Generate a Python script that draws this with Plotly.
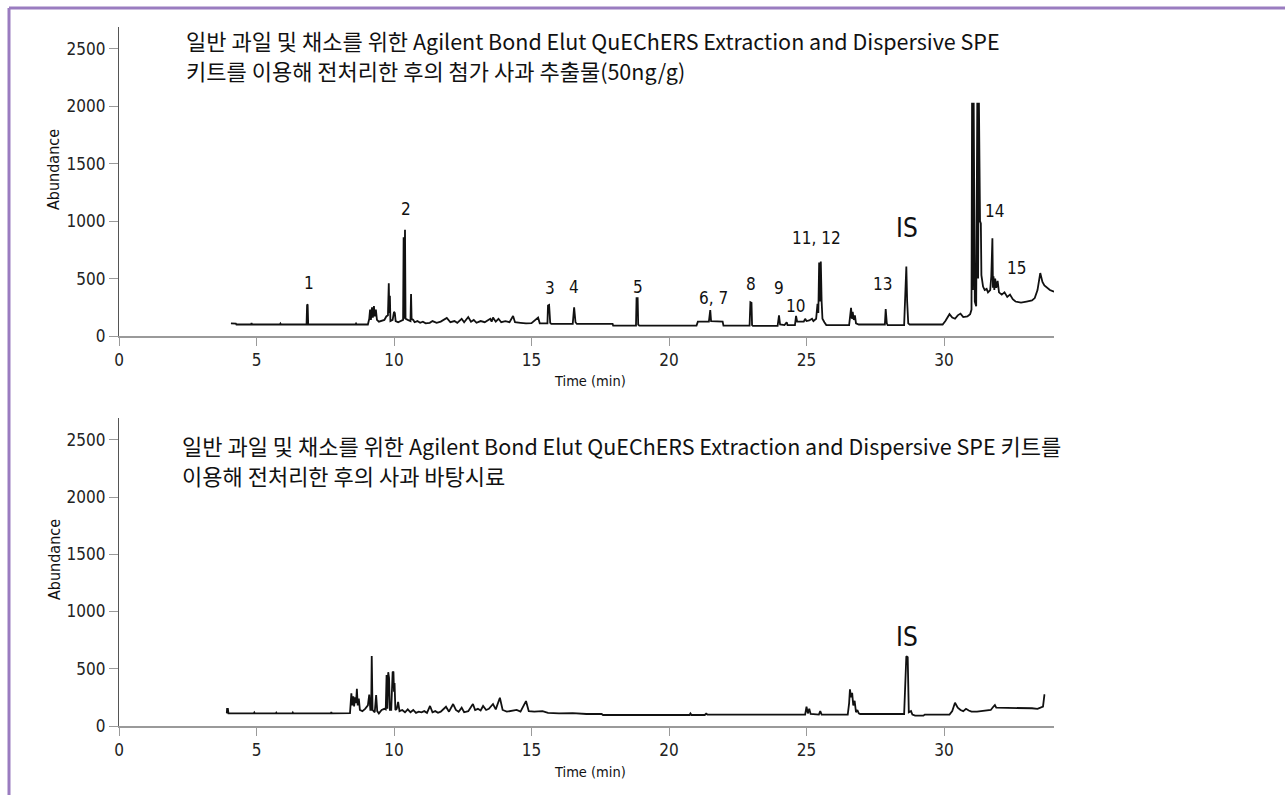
import plotly.graph_objects as go

# Spiked apple extract (50 ng/g): (retention time in min, abundance)
spiked_points = [
    (4.07, 110), (4.25, 108), (4.27, 100), (4.80, 100), (4.82, 112), (4.84, 100),
    (5.85, 100), (5.87, 108), (5.89, 100), (6.82, 100), (6.84, 275), (6.86, 270),
    (6.88, 100), (8.60, 100), (8.62, 108), (8.64, 100), (9.05, 100), (9.10, 150),
    (9.13, 230), (9.16, 140), (9.20, 250), (9.23, 160), (9.27, 260), (9.30, 170),
    (9.34, 230), (9.38, 140), (9.45, 125), (9.55, 135), (9.65, 140), (9.72, 170),
    (9.78, 180), (9.81, 460), (9.83, 200), (9.85, 350), (9.87, 130), (9.95, 140),
    (10.00, 210), (10.03, 200), (10.06, 130), (10.15, 120), (10.25, 130),
    (10.33, 140), (10.35, 860), (10.37, 150), (10.40, 925), (10.42, 150),
    (10.50, 140), (10.60, 130), (10.62, 365), (10.64, 150), (10.70, 140),
    (10.75, 120), (10.85, 130), (10.95, 115), (11.05, 125), (11.15, 110),
    (11.30, 115), (11.40, 130), (11.55, 115), (11.70, 125), (11.92, 157),
    (12.05, 120), (12.20, 130), (12.30, 115), (12.46, 150), (12.55, 120),
    (12.70, 165), (12.80, 125), (12.90, 140), (13.00, 115), (13.15, 130),
    (13.30, 120), (13.50, 150), (13.55, 125), (13.60, 160), (13.70, 125),
    (13.80, 150), (13.90, 120), (14.05, 130), (14.20, 120), (14.33, 174),
    (14.40, 120), (14.60, 115), (14.80, 110), (15.00, 112), (15.24, 160),
    (15.30, 110), (15.58, 110), (15.60, 265), (15.64, 270), (15.68, 115),
    (15.72, 105), (16.50, 105), (16.55, 250), (16.60, 120), (16.65, 105),
    (17.95, 105), (17.97, 90), (18.80, 90), (18.82, 330), (18.86, 330),
    (18.88, 100), (18.92, 90), (21.00, 90), (21.05, 125), (21.45, 125),
    (21.50, 225), (21.53, 130), (21.95, 125), (21.98, 90), (22.93, 90),
    (22.96, 295), (23.00, 290), (23.02, 95), (23.05, 88), (23.95, 88),
    (24.00, 180), (24.04, 100), (24.20, 95), (24.28, 120), (24.31, 95),
    (24.58, 95), (24.62, 175), (24.66, 125), (24.90, 125), (24.95, 150),
    (25.00, 130), (25.10, 135), (25.20, 150), (25.25, 130), (25.35, 150),
    (25.40, 280), (25.43, 200), (25.46, 640), (25.49, 300), (25.52, 648),
    (25.55, 300), (25.58, 150), (25.65, 120), (25.72, 95), (26.55, 95),
    (26.60, 200), (26.62, 245), (26.65, 150), (26.68, 210), (26.72, 140),
    (26.76, 180), (26.80, 110), (26.90, 100), (27.85, 100), (27.88, 235),
    (27.92, 110), (27.95, 95), (28.55, 95), (28.60, 365), (28.63, 604),
    (28.66, 300), (28.70, 110), (28.75, 100), (29.95, 100), (30.05, 130),
    (30.20, 190), (30.30, 160), (30.40, 150), (30.50, 180), (30.60, 195),
    (30.70, 165), (30.85, 170), (30.95, 190), (31.00, 230), (31.02, 2030),
    (31.05, 400), (31.08, 2030), (31.12, 300), (31.17, 260), (31.21, 2030),
    (31.24, 500), (31.27, 2030), (31.31, 1000), (31.34, 980), (31.36, 530),
    (31.42, 430), (31.48, 400), (31.55, 410), (31.60, 380), (31.68, 400),
    (31.72, 520), (31.76, 850), (31.78, 420), (31.80, 520), (31.83, 400),
    (31.86, 500), (31.90, 420), (31.95, 480), (32.00, 380), (32.10, 360),
    (32.20, 380), (32.30, 340), (32.40, 360), (32.50, 320), (32.60, 300),
    (32.80, 290), (33.00, 300), (33.20, 310), (33.30, 330), (33.40, 400),
    (33.50, 548), (33.58, 470), (33.65, 440), (33.75, 420), (33.85, 400),
    (33.95, 390), (34.05, 385),
]

# Apple blank: (retention time in min, abundance)
blank_points = [
    (3.92, 110), (3.93, 150), (3.96, 150), (3.98, 110), (4.90, 110), (4.92, 118),
    (4.94, 110), (5.70, 110), (5.72, 117), (5.74, 110), (6.30, 110), (6.32, 118),
    (6.34, 110), (6.60, 110), (6.62, 116), (6.64, 110), (7.70, 110), (7.72, 120),
    (7.74, 110), (8.40, 112), (8.42, 160), (8.45, 285), (8.48, 180), (8.52, 260),
    (8.55, 170), (8.58, 250), (8.62, 200), (8.65, 325), (8.68, 180), (8.72, 240),
    (8.76, 140), (8.85, 130), (8.95, 150), (9.05, 180), (9.10, 275), (9.14, 140),
    (9.17, 140), (9.19, 612), (9.22, 140), (9.30, 120), (9.35, 270), (9.39, 130),
    (9.45, 110), (9.55, 140), (9.65, 150), (9.70, 145), (9.73, 445), (9.76, 150),
    (9.79, 470), (9.82, 420), (9.85, 140), (9.90, 140), (9.95, 470), (9.98, 475),
    (10.00, 300), (10.02, 375), (10.05, 140), (10.10, 150), (10.15, 210),
    (10.20, 130), (10.30, 140), (10.40, 120), (10.50, 145), (10.60, 120),
    (10.70, 140), (10.80, 115), (10.90, 125), (11.00, 120), (11.10, 130),
    (11.20, 115), (11.31, 175), (11.40, 120), (11.50, 130), (11.60, 115),
    (11.70, 125), (11.89, 168), (12.00, 125), (12.15, 192), (12.25, 140),
    (12.35, 125), (12.46, 160), (12.55, 120), (12.70, 130), (12.87, 192),
    (12.95, 140), (13.05, 150), (13.15, 135), (13.24, 175), (13.35, 140),
    (13.45, 150), (13.60, 192), (13.70, 145), (13.85, 247), (13.95, 140),
    (14.10, 125), (14.30, 130), (14.46, 140), (14.60, 125), (14.80, 218),
    (14.90, 130), (15.10, 125), (15.40, 130), (15.60, 115), (16.00, 110),
    (16.50, 112), (17.00, 105), (17.55, 105), (17.60, 96), (20.75, 96),
    (20.78, 110), (20.82, 96), (21.30, 96), (21.35, 108), (21.40, 100),
    (24.95, 100), (25.00, 168), (25.05, 110), (25.10, 150), (25.15, 105),
    (25.45, 100), (25.50, 130), (25.55, 100), (26.50, 100), (26.55, 200),
    (26.58, 320), (26.62, 250), (26.66, 290), (26.70, 180), (26.75, 220),
    (26.80, 120), (26.85, 140), (26.90, 110), (26.95, 105), (28.55, 105),
    (28.60, 430), (28.63, 610), (28.68, 600), (28.72, 120), (28.80, 130),
    (28.85, 100), (28.95, 90), (29.25, 90), (29.30, 100), (30.20, 100),
    (30.30, 130), (30.40, 203), (30.50, 160), (30.60, 140), (30.70, 130),
    (30.80, 150), (30.90, 135), (31.00, 125), (31.20, 125), (31.40, 130),
    (31.70, 140), (31.80, 170), (31.85, 183), (31.90, 160), (32.20, 160),
    (32.50, 160), (32.80, 160), (33.00, 155), (33.20, 155), (33.40, 150),
    (33.50, 160), (33.60, 170), (33.65, 270), (33.68, 270),
]

# Compound labels above the spiked chromatogram: (text, time, abundance, font size)
spiked_labels = [
    ("1", 6.91, 462, 17), ("2", 10.44, 1106, 17), ("3", 15.67, 418, 17),
    ("4", 16.55, 427, 17), ("5", 18.87, 427, 17), ("6, 7", 21.6, 331, 17),
    ("8", 22.98, 453, 17), ("9", 24.0, 418, 17), ("10", 24.6, 261, 17),
    ("11, 12", 25.35, 854, 17), ("13", 27.75, 453, 17), ("IS", 28.65, 941, 26),
    ("14", 31.85, 1089, 17), ("15", 32.65, 592, 17),
]
blank_labels = [("IS", 28.65, 778, 26)]

# Panel titles, one entry per line; Korean runs are set slightly larger
KO = '<span style="font-size:22px">{}</span>'
spiked_title_lines = [
    KO.format("일반 과일 및 채소를 위한")
    + " Agilent Bond Elut QuEChERS Extraction and Dispersive SPE",
    KO.format("키트를 이용해 전처리한 후의 첨가 사과 추출물") + "(50ng/g)",
]
blank_title_lines = [
    KO.format("일반 과일 및 채소를 위한")
    + " Agilent Bond Elut QuEChERS Extraction and Dispersive SPE "
    + KO.format("키트를"),
    KO.format("이용해 전처리한 후의 사과 바탕시료"),
]

x_ticks = [0, 5, 10, 15, 20, 25, 30]
y_ticks = [0, 500, 1000, 1500, 2000, 2500]

W, H = 1285, 795
NARROW = "Liberation Sans Narrow, DejaVu Sans Condensed, Arial Narrow, sans-serif"
TITLE_FONT = "Noto Sans CJK KR, sans-serif"

x_dom = [119 / W, 1054 / W]
top_dom = [1 - 336 / H, 1 - 27 / H]
bot_dom = [1 - 726 / H, 1 - 418 / H]

fig = go.Figure()
for pts, xa, ya in [(spiked_points, "x", "y"), (blank_points, "x2", "y2")]:
    t, a = zip(*pts)
    fig.add_trace(go.Scatter(
        x=list(t), y=list(a), mode="lines", xaxis=xa, yaxis=ya,
        line=dict(color="#111111", width=1.8), showlegend=False, hoverinfo="skip",
    ))

axis_common = dict(
    showgrid=False, zeroline=False, showline=True, ticks="outside", automargin=False,
    tickfont=dict(family=NARROW, size=17, color="#222222"),
)
xa_style = dict(axis_common, range=[0, 34.0], tickvals=x_ticks, linecolor="#9a9a9a",
                tickcolor="#9a9a9a", ticklen=8, linewidth=1.5, domain=x_dom)
ya_style = dict(axis_common, range=[0, 2690], tickvals=y_ticks, linecolor="#555555",
                tickcolor="#9a9a9a", ticklen=9, linewidth=1.2)

fig.update_layout(
    width=W, height=H, autosize=False,
    margin=dict(l=0, r=0, t=0, b=0, pad=0),
    paper_bgcolor="white", plot_bgcolor="white",
    xaxis=dict(xa_style, anchor="y"),
    yaxis=dict(ya_style, domain=top_dom, anchor="x"),
    xaxis2=dict(xa_style, anchor="y2"),
    yaxis2=dict(ya_style, domain=bot_dom, anchor="x2"),
)

annotations = []
for text, t, a, size in spiked_labels:
    annotations.append(dict(x=t, y=a, xref="x", yref="y", text=text, showarrow=False,
                            font=dict(family=NARROW, size=size, color="#111111")))
for text, t, a, size in blank_labels:
    annotations.append(dict(x=t, y=a, xref="x2", yref="y2", text=text, showarrow=False,
                            font=dict(family=NARROW, size=size, color="#111111")))

# Panel titles (line centres in pixels from the top)
for lines, x_left, centres in [(spiked_title_lines, 184, [40, 70]),
                               (blank_title_lines, 180, [445, 475])]:
    for line, yc in zip(lines, centres):
        annotations.append(dict(x=x_left / W, y=1 - yc / H, xref="paper", yref="paper",
                                text=line, showarrow=False, xanchor="left",
                                yanchor="middle", align="left",
                                font=dict(family=TITLE_FONT, size=21.5, color="#111111")))

# Axis titles
for yc_time, yc_abund in [(381, 170), (772, 560)]:
    annotations.append(dict(x=590 / W, y=1 - yc_time / H, xref="paper", yref="paper",
                            text="Time (min)", showarrow=False,
                            xanchor="center", yanchor="middle",
                            font=dict(family=NARROW, size=14.5, color="#111111")))
    annotations.append(dict(x=54 / W, y=1 - yc_abund / H, xref="paper", yref="paper",
                            text="Abundance", showarrow=False, textangle=-90,
                            xanchor="center", yanchor="middle",
                            font=dict(family=NARROW, size=16, color="#111111")))
fig.update_layout(annotations=annotations)

# Purple frame around the figure
frame = "#9a7cc0"
fig.add_shape(type="line", xref="paper", yref="paper", x0=9 / W, x1=1, y0=1 - 8 / H,
              y1=1 - 8 / H, line=dict(color=frame, width=3))
fig.add_shape(type="line", xref="paper", yref="paper", x0=9 / W, x1=9 / W, y0=0,
              y1=1 - 8 / H, line=dict(color=frame, width=3))

fig.write_html("out.html")
